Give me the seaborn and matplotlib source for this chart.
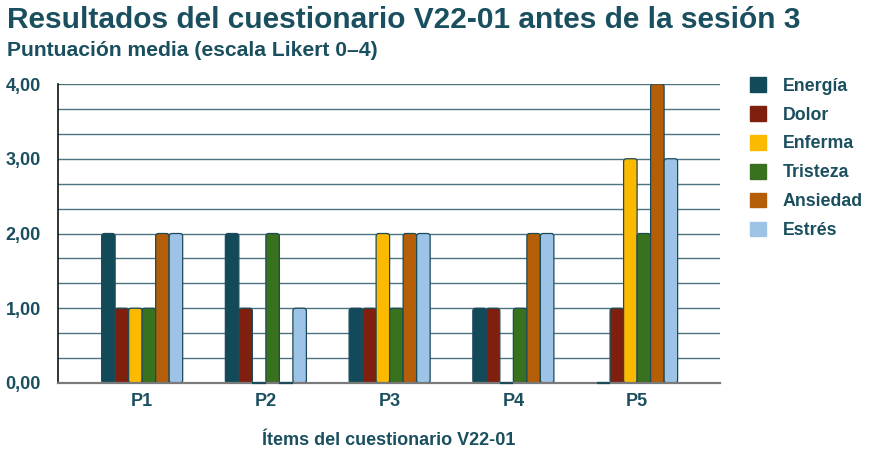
import pandas as pd
import numpy as np
import matplotlib
matplotlib.use("Agg")
import matplotlib.pyplot as plt
import seaborn as sns
from matplotlib.ticker import MultipleLocator, FuncFormatter
from matplotlib.patches import Patch, FancyBboxPatch

items = ["P1", "P2", "P3", "P4", "P5"]
dimensiones = ["Energía", "Dolor", "Enferma", "Tristeza", "Ansiedad", "Estrés"]
energia = [2, 2, 1, 1, 0]
dolor = [1, 1, 1, 1, 1]
enferma = [1, 0, 2, 0, 3]
tristeza = [1, 2, 1, 1, 2]
ansiedad = [2, 0, 2, 2, 4]
estres = [2, 1, 2, 2, 3]
colores = ["#124a5a", "#7f1f0e", "#fbb900", "#38721f", "#b45f08", "#9dc3e6"]

texto = "#1a4f5f"

series = [energia, dolor, enferma, tristeza, ansiedad, estres]
df = pd.DataFrame({
    "item": np.repeat([items], len(dimensiones), axis=0).ravel(),
    "dimension": np.repeat(dimensiones, len(items)),
    "valor": np.concatenate(series),
})

sns.set_style("white")
plt.rcParams["font.family"] = ["Liberation Sans", "DejaVu Sans"]
plt.rcParams["font.weight"] = "bold"

fig = plt.figure(figsize=(8.7, 4.54), dpi=100)
ax = fig.add_axes([58 / 870, 1 - 383 / 454, 662 / 870, 299 / 454])

sns.barplot(data=df, x="item", y="valor", hue="dimension", hue_order=dimensiones,
            palette=colores, saturation=1, width=0.655, edgecolor="#1d4a58",
            linewidth=0.9, errorbar=None, ax=ax, legend=False, zorder=3)

ax.set_ylim(0, 4)
ax.set_xlim(-0.68, 4.67)

# esquinas redondeadas en las barras; las de valor cero quedan como trazo sobre el eje
aspecto = (4 / 299) / (5.35 / 662)
for p in list(ax.patches):
    if p.get_height() == 0:
        p.set_clip_on(False)
        p.set_zorder(4)
        p.set_linewidth(1.6)
        continue
    r = FancyBboxPatch((p.get_x(), p.get_y()), p.get_width(), p.get_height(),
                       boxstyle="round,pad=0,rounding_size=0.022",
                       mutation_aspect=aspecto, facecolor=p.get_facecolor(),
                       edgecolor=p.get_edgecolor(), linewidth=p.get_linewidth(),
                       zorder=3)
    p.set_visible(False)
    ax.add_patch(r)

ax.yaxis.set_major_locator(MultipleLocator(1))
ax.yaxis.set_minor_locator(MultipleLocator(1 / 3))
ax.yaxis.set_major_formatter(FuncFormatter(lambda v, p: f"{v:.2f}".replace(".", ",")))
ax.grid(axis="y", which="both", color="#4b7380", linewidth=1.0, zorder=0)
ax.set_axisbelow(True)

for s in ["top", "right"]:
    ax.spines[s].set_visible(False)
ax.spines["left"].set_color("#111111")
ax.spines["left"].set_linewidth(1.2)
ax.spines["bottom"].set_color("#7a7a7a")
ax.spines["bottom"].set_linewidth(1.6)
ax.spines["bottom"].set_zorder(3.5)

ax.tick_params(axis="y", which="major", direction="inout", length=9, width=1.2,
               color="#222222", labelsize=13, labelcolor=texto, pad=8)
ax.tick_params(axis="y", which="minor", direction="inout", length=5, width=1.0,
               color="#222222")
ax.tick_params(axis="x", length=0, labelsize=13, labelcolor=texto, pad=7)
for lab in ax.get_yticklabels() + ax.get_xticklabels():
    lab.set_fontweight("bold")

ax.set_xlabel("Ítems del cuestionario V22-01", fontsize=13, fontweight="bold",
              color=texto, labelpad=16)
ax.set_ylabel("")

fig.text(7 / 870, 1 - 28 / 454, "Resultados del cuestionario V22-01 antes de la sesión 3",
         fontsize=21.5, fontweight="bold", color=texto)
fig.text(7 / 870, 1 - 56 / 454, "Puntuación media (escala Likert 0–4)",
         fontsize=15.2, fontweight="bold", color=texto)

handles = [Patch(facecolor=c, edgecolor=c, label=d) for c, d in zip(colores, dimensiones)]
leg = fig.legend(handles=handles, loc="upper left", bbox_to_anchor=(743 / 870, 1 - 70 / 454),
                 frameon=False, fontsize=12.8, handlelength=0.9, handleheight=0.9,
                 labelspacing=0.64, handletextpad=0.95, borderaxespad=0)
for t in leg.get_texts():
    t.set_color(texto)
    t.set_fontweight("bold")

fig.savefig("out.png", dpi=100)
plt.close(fig)
